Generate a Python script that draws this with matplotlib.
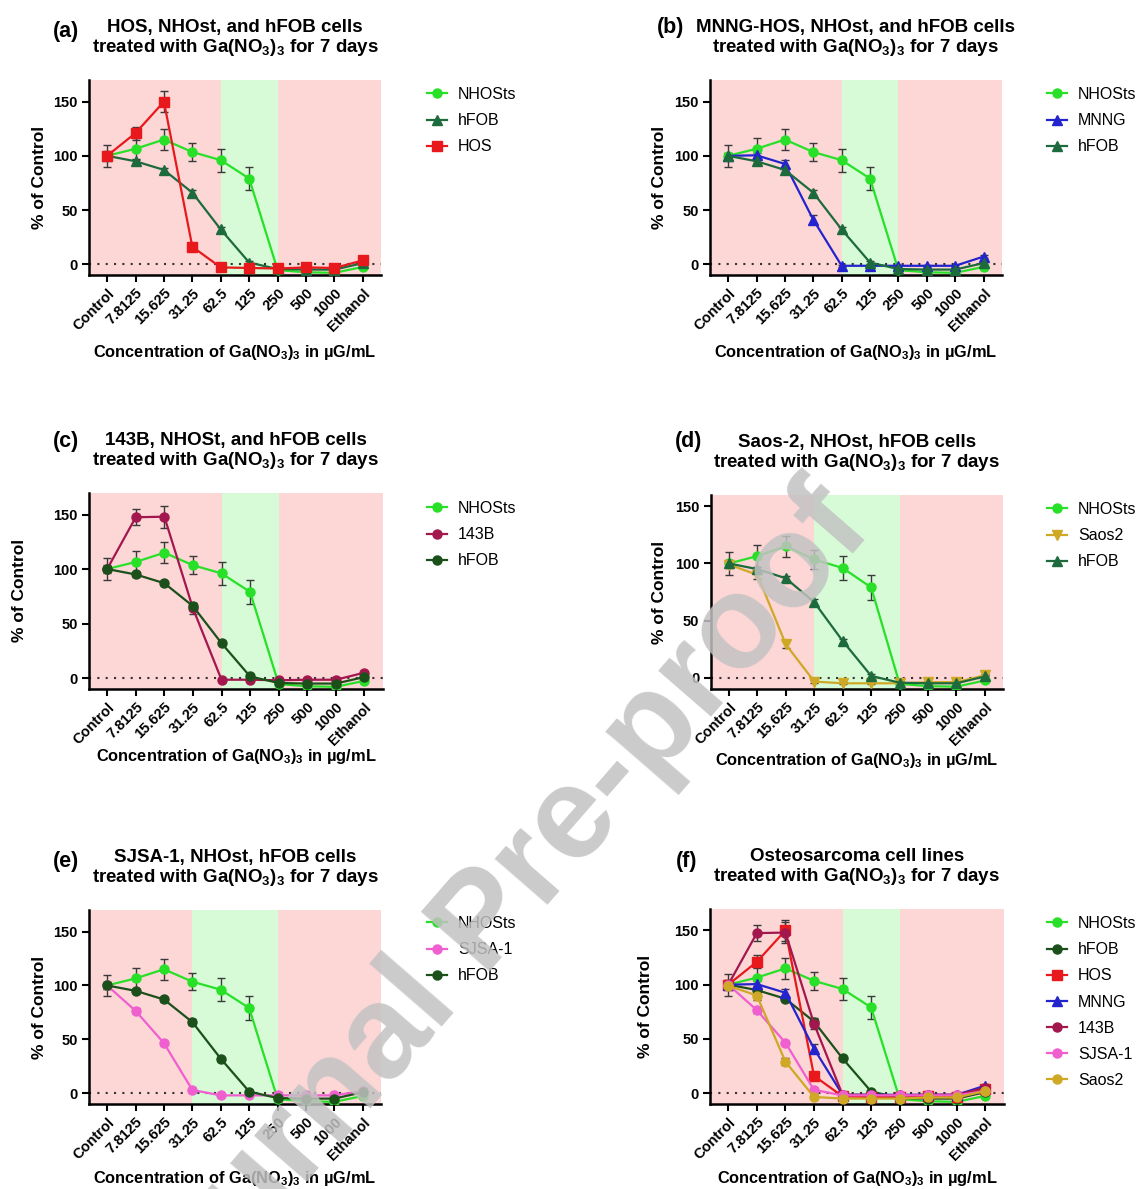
import matplotlib
matplotlib.use("Agg")
import matplotlib.pyplot as plt

plt.rcParams['font.family'] = ['Liberation Sans', 'DejaVu Sans']
plt.rcParams['mathtext.fontset'] = 'custom'
plt.rcParams['mathtext.rm'] = 'Liberation Sans:bold'
plt.rcParams['mathtext.bf'] = 'Liberation Sans:bold'
plt.rcParams['mathtext.it'] = 'Liberation Sans:bold'
plt.rcParams['mathtext.default'] = 'bf'

# concentrations (categorical x axis)
conc = ["Control", "7.8125", "15.625", "31.25", "62.5", "125", "250", "500", "1000", "Ethanol"]

# % of control, mean and error for each cell line
nhost = [100, 106.5, 115, 103.5, 96, 79, -5.5, -7.5, -8, -2.5]
nhost_err = [10, 10, 9.5, 8, 10.5, 11, 1.5, 1, 1, 1.5]
hfob = [100, 95, 87, 66, 32, 1.5, -4.5, -5, -5, 1]
hfob_err = [3, 2, 2, 2.5, 2, 1.5, 1, 1, 1, 1]
hos = [100, 121, 150, 16, -3, -3.5, -4, -3, -3.5, 3.5]
hos_err = [4, 6, 10, 3, 1, 1, 1, 1, 1, 1.5]
mnng = [100, 100.5, 92.5, 41, -1.5, -1.5, -1.5, -1.5, -1.5, 7]
mnng_err = [3, 2.5, 3.5, 4, 1, 1, 1, 1, 1, 1.5]
b143 = [100, 147.5, 148, 64, -1.5, -1.5, -2, -1.5, -1.5, 5]
b143_err = [4, 7.5, 10, 5, 1, 1, 1, 1, 1, 1.5]
sjsa = [100, 76.5, 46.5, 3, -2, -2, -2, -2, -2, 2]
sjsa_err = [3, 2.5, 2, 1.5, 1, 1, 1, 1, 1, 1]
saos = [99, 90, 29, -3.5, -5, -5, -5, -4, -4, 2]
saos_err = [3, 4, 3, 1, 1, 1, 1, 1, 1, 1]

C_NHO = "#27e027"
C_HFOB_T = "#1d6b3d"
C_HFOB_C = "#1b501b"
C_HOS = "#e8191c"
C_MNNG = "#2424cc"
C_143 = "#a3174f"
C_SJSA = "#ef5fcf"
C_SAOS = "#cfa826"

S_NHO = ("NHOSts", nhost, nhost_err, C_NHO, "o")
S_HFT = ("hFOB", hfob, hfob_err, C_HFOB_T, "^")
S_HFC = ("hFOB", hfob, hfob_err, C_HFOB_C, "o")
S_HOS = ("HOS", hos, hos_err, C_HOS, "s")
S_MNNG = ("MNNG", mnng, mnng_err, C_MNNG, "^")
S_143 = ("143B", b143, b143_err, C_143, "o")
S_SJSA = ("SJSA-1", sjsa, sjsa_err, C_SJSA, "o")
S_SAOV = ("Saos2", saos, saos_err, C_SAOS, "v")
S_SAOC = ("Saos2", saos, saos_err, C_SAOS, "o")

W, H = 1142, 1189
fig = plt.figure(figsize=(W / 100, H / 100), dpi=100)

ga = r"Ga(NO$_3$)$_3$"
panels = [
    dict(box=(88.6, 80, 381.4, 275), green=(4, 6), ylim=(-10, 170),
         series=[S_NHO, S_HFT, S_HOS], title="HOS, NHOst, and hFOB cells",
         lab="(a)", labxy=(53, 31), ylx=39, xly=352, unit="µG/mL", leg=(427, 93)),
    dict(box=(709.7, 80, 1002, 275), green=(4, 6), ylim=(-10, 170),
         series=[S_NHO, S_MNNG, S_HFT], title="MNNG-HOS, NHOst, and hFOB cells",
         lab="(b)", labxy=(657, 28), ylx=659, xly=352, unit="µG/mL", leg=(1047, 93)),
    dict(box=(88.6, 492.7, 383, 689), green=(4, 6), ylim=(-10, 170),
         series=[S_NHO, S_143, S_HFC], title="143B, NHOSt, and hFOB cells",
         lab="(c)", labxy=(53, 442), ylx=20, xly=757, unit="µg/mL", leg=(427, 507)),
    dict(box=(710.5, 495, 1003.4, 689), green=(3, 6), ylim=(-10, 160),
         series=[S_NHO, S_SAOV, S_HFT], title="Saos-2, NHOst, hFOB cells",
         lab="(d)", labxy=(675, 441), ylx=659, xly=760, unit="µG/mL", leg=(1047, 508)),
    dict(box=(88.6, 910, 381.4, 1104), green=(3, 6), ylim=(-10, 170),
         series=[S_NHO, S_SJSA, S_HFC], title="SJSA-1, NHOst, hFOB cells",
         lab="(e)", labxy=(53, 862), ylx=39, xly=1178, unit="µG/mL", leg=(427, 922)),
    dict(box=(709.7, 908.7, 1004, 1104), green=(4, 6), ylim=(-10, 170),
         series=[S_NHO, S_HFC, S_HOS, S_MNNG, S_143, S_SJSA, S_SAOC],
         title="Osteosarcoma cell lines",
         lab="(f)", labxy=(676, 861), ylx=645, xly=1178, unit="µg/mL", leg=(1047, 922)),
]

x = list(range(len(conc)))
FS_LEG = 11.5

for p in panels:
    l, t, r, b = p["box"]
    ax = fig.add_axes([l / W, 1 - b / H, (r - l) / W, (b - t) / H])
    ax.set_xlim(-0.65, 9.65)
    ax.set_ylim(*p["ylim"])
    ax.axvspan(-0.65, 9.65, color="#fdd6d6", lw=0, zorder=0)
    ax.axvspan(p["green"][0], p["green"][1], color="#d6fbd6", lw=0, zorder=0.5)
    ax.axhline(0, color="#333333", ls=(0, (1, 3)), lw=1.5, zorder=1)

    for name, vals, err, col, mk in p["series"]:
        ax.errorbar(x, vals, yerr=err, fmt="none", ecolor="#3a3a3a",
                    elinewidth=1, capsize=3, capthick=1, zorder=2)
        ax.plot(x, vals, color=col, marker=mk, ms=6.5, lw=1.6, label=name, zorder=3)

    ax.set_yticks([0, 50, 100, 150])
    ax.set_xticks(x)
    ax.set_xticklabels(conc, rotation=45, ha="right", va="top",
                       rotation_mode="anchor", fontsize=10.5, fontweight="bold")
    for lbl in ax.get_yticklabels():
        lbl.set_fontweight("bold")
        lbl.set_fontsize(10.5)
    ax.tick_params(width=1.5, length=5, pad=3)
    for s in ["top", "right"]:
        ax.spines[s].set_visible(False)
    for s in ["left", "bottom"]:
        ax.spines[s].set_linewidth(1.8)

    ax.set_ylabel("% of Control", fontsize=12.5, fontweight="bold")
    ax.yaxis.set_label_coords((p["ylx"] - l) / (r - l), 0.5)
    ax.set_xlabel("Concentration of " + ga + " in " + p["unit"],
                  fontsize=11.8, fontweight="bold")
    ax.xaxis.set_label_coords(0.5, (b - p["xly"]) / (b - t))
    ax.xaxis.label.set_va("center")
    ax.yaxis.label.set_va("center")

    ax.set_title(p["title"] + "\ntreated with " + ga + " for 7 days",
                 fontsize=13.5, fontweight="bold", pad=20, linespacing=1.05)
    fig.text(p["labxy"][0] / W, 1 - p["labxy"][1] / H, p["lab"],
             fontsize=15.5, fontweight="bold", ha="left", va="center")

    lx, ly = p["leg"]
    ax.legend(loc="upper left", bbox_to_anchor=(lx / W, 1 - (ly - 6) / H),
              bbox_transform=fig.transFigure, frameon=False, borderpad=0,
              borderaxespad=0, handlelength=1.25, handletextpad=0.7,
              labelspacing=0.7, fontsize=FS_LEG)

# journal watermark (runs off the bottom edge, as in the source figure)
fig.text(485 / W, 1 - 925 / H, "Journal Pre-proof", fontsize=95, fontweight="bold",
         color="#c2c2c2", alpha=0.85, rotation=49, ha="center", va="center",
         rotation_mode="anchor", zorder=10)

fig.savefig("out.png", dpi=100, facecolor="white")
